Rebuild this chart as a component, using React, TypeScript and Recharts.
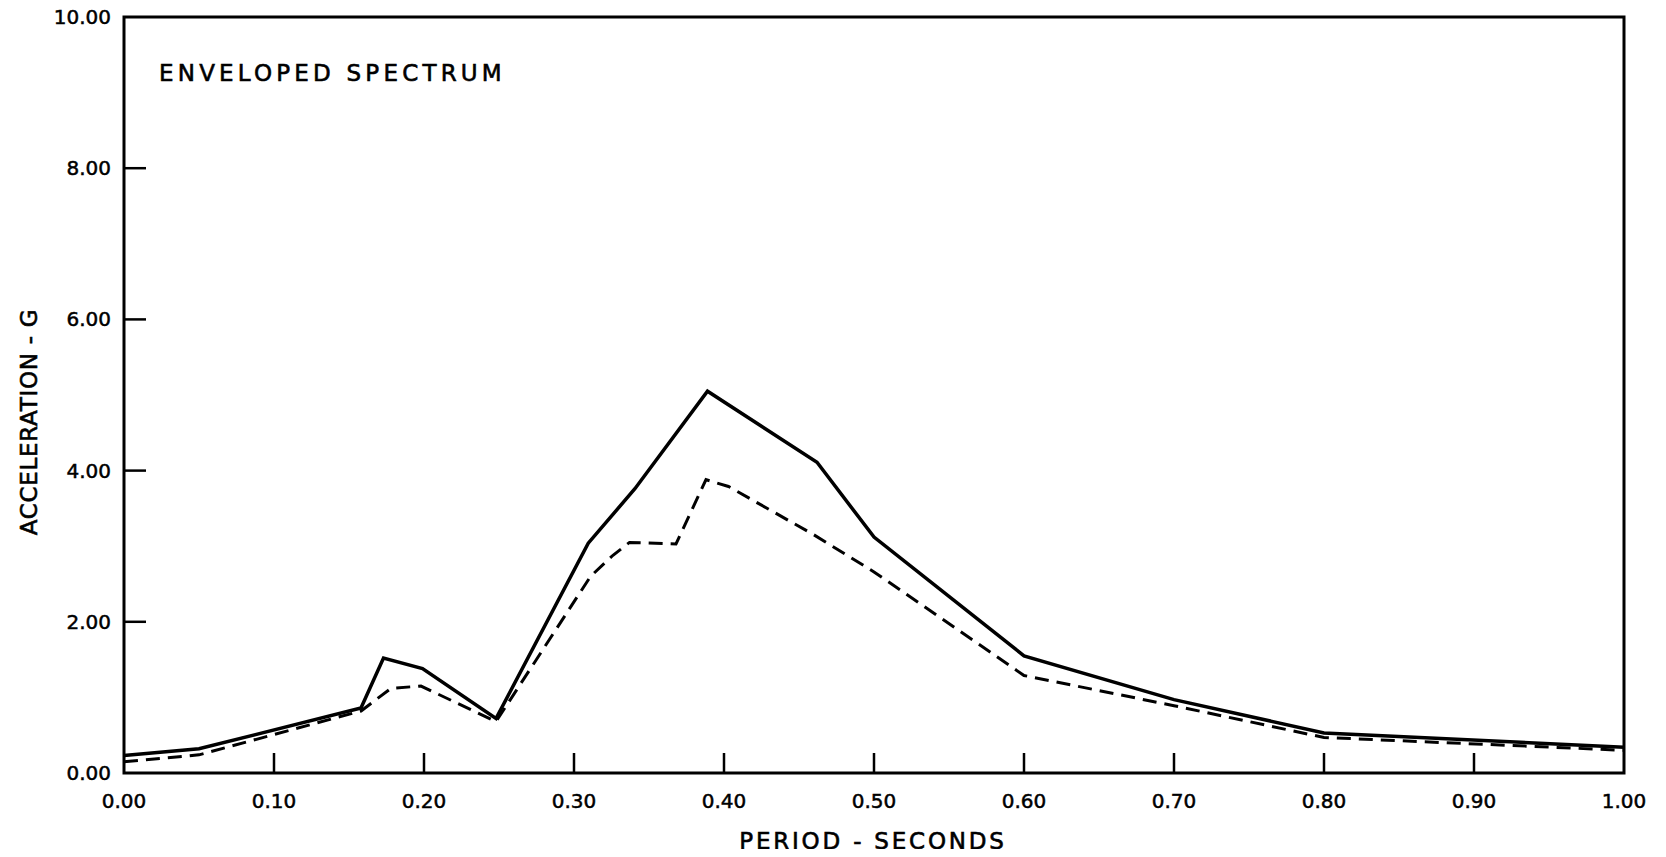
import React from "react";
import { LineChart, Line, XAxis, YAxis, ReferenceArea } from "recharts";

const xTicks = [0, 0.1, 0.2, 0.3, 0.4, 0.5, 0.6, 0.7, 0.8, 0.9, 1.0];
const yTicks = [0, 2, 4, 6, 8, 10];

const envelopedPeriods = [0.0, 0.05, 0.158, 0.173, 0.199, 0.248, 0.3095, 0.3406, 0.389, 0.462, 0.5, 0.6, 0.7, 0.8, 1.0];
const envelopedAccel = [0.23, 0.32, 0.86, 1.52, 1.38, 0.72, 3.04, 3.76, 5.05, 4.11, 3.12, 1.55, 0.97, 0.53, 0.34];

const computedPeriods = [0.0, 0.05, 0.158, 0.178, 0.198, 0.248, 0.311, 0.326, 0.337, 0.368, 0.388, 0.403, 0.46, 0.5, 0.6, 0.7, 0.8, 1.0];
const computedAccel = [0.15, 0.24, 0.82, 1.12, 1.15, 0.68, 2.6, 2.88, 3.05, 3.03, 3.88, 3.79, 3.15, 2.66, 1.29, 0.89, 0.47, 0.3];

const envelopedData = envelopedPeriods.map((p, i) => ({ period: p, accel: envelopedAccel[i] }));
const computedData = computedPeriods.map((p, i) => ({ period: p, accel: computedAccel[i] }));

const FONT = "DejaVu Sans";

const XTick = (props: any) => {
  const { x, y, payload } = props;
  const v = payload.value as number;
  return (
    <g>
      {v > 0.001 && v < 0.999 && (
        <line x1={x} x2={x} y1={y} y2={y - 20} stroke="#000" strokeWidth={2.5} />
      )}
      <text x={x} y={y + 28} textAnchor="middle" dominantBaseline="central" fontFamily={FONT} fontSize={20} fill="#000" stroke="#000" strokeWidth={0.5}>
        {v.toFixed(2)}
      </text>
    </g>
  );
};

const YTick = (props: any) => {
  const { x, y, payload } = props;
  const v = payload.value as number;
  return (
    <g>
      {v > 0 && v < 10 && (
        <line x1={x} x2={x + 22} y1={y} y2={y} stroke="#000" strokeWidth={2.5} />
      )}
      <text x={x - 13} y={y} textAnchor="end" dominantBaseline="central" fontFamily={FONT} fontSize={20} fill="#000" stroke="#000" strokeWidth={0.5}>
        {v.toFixed(2)}
      </text>
    </g>
  );
};

export default function App() {
  return (
    <div style={{ position: "relative", width: 1650, height: 857, marginTop: -8, marginBottom: -8, background: "#fff" }}>
      <LineChart width={1650} height={857} margin={{ top: 17, right: 34, bottom: 0, left: 0 }} style={{ overflow: "visible" }}>
        <XAxis
          dataKey="period"
          type="number"
          domain={[0, 1]}
          ticks={xTicks}
          interval={0}
          height={84}
          tickSize={0}
          tickMargin={0}
          axisLine={false}
          tickLine={false}
          tick={<XTick />}
          allowDuplicatedCategory={false}
        />
        <YAxis
          dataKey="accel"
          type="number"
          domain={[0, 10]}
          ticks={yTicks}
          interval={0}
          width={116}
          tickSize={0}
          tickMargin={0}
          axisLine={false}
          tickLine={false}
          tick={<YTick />}
        />
        <ReferenceArea x1={0} x2={1} y1={0} y2={10} fill="none" stroke="#000" strokeWidth={3} ifOverflow="visible" />
        <Line
          data={computedData}
          dataKey="accel"
          type="linear"
          stroke="#000"
          strokeWidth={3}
          strokeDasharray="14 8"
          dot={false}
          activeDot={false}
          isAnimationActive={false}
        />
        <Line
          data={envelopedData}
          dataKey="accel"
          type="linear"
          stroke="#000"
          strokeWidth={3.5}
          dot={false}
          activeDot={false}
          isAnimationActive={false}
        />
      </LineChart>
      <div
        style={{
          position: "absolute",
          left: 151,
          top: 73,
          transform: "translateY(-50%)",
          fontFamily: FONT,
          fontSize: 23,
          letterSpacing: 4.2,
          whiteSpace: "nowrap",
          color: "#000",
          WebkitTextStroke: "0.6px #000",
        }}
      >
        ENVELOPED SPECTRUM
      </div>
      <div
        style={{
          position: "absolute",
          left: 865,
          top: 841,
          transform: "translate(-50%, -50%)",
          fontFamily: FONT,
          fontSize: 23,
          letterSpacing: 2.8,
          whiteSpace: "nowrap",
          color: "#000",
          WebkitTextStroke: "0.6px #000",
        }}
      >
        PERIOD - SECONDS
      </div>
      <div
        style={{
          position: "absolute",
          left: 21,
          top: 422,
          transform: "translate(-50%, -50%) rotate(-90deg)",
          fontFamily: FONT,
          fontSize: 23,
          letterSpacing: 0.7,
          whiteSpace: "nowrap",
          color: "#000",
          WebkitTextStroke: "0.6px #000",
        }}
      >
        ACCELERATION - G
      </div>
    </div>
  );
}
